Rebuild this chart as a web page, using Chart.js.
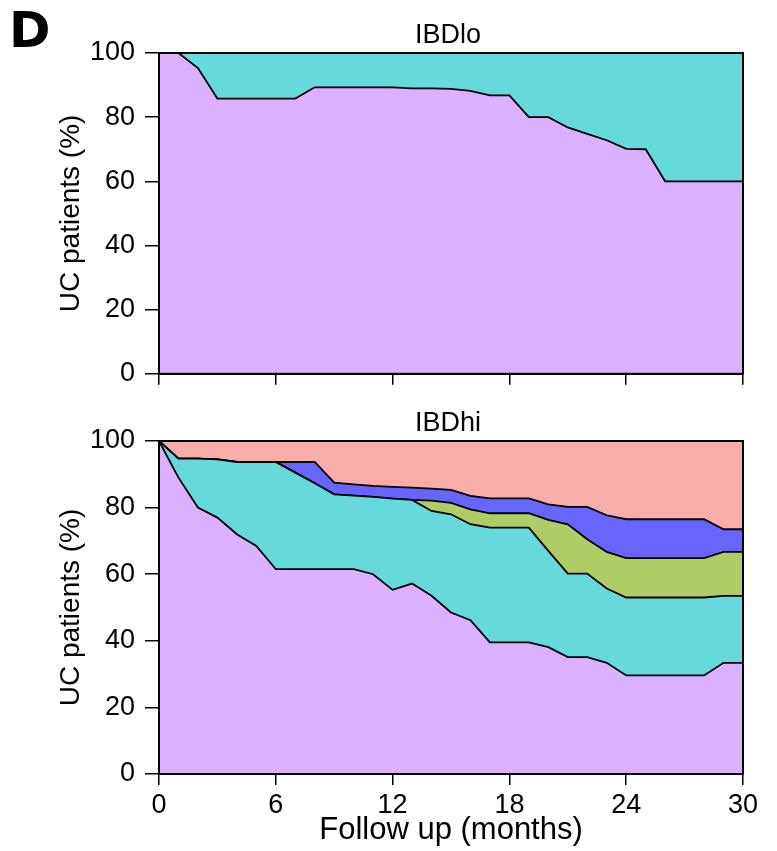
<!DOCTYPE html>
<html>
<head>
<meta charset="utf-8">
<script src="https://cdn.jsdelivr.net/npm/chart.js@4/dist/chart.umd.min.js"></script>
<style>
  body { margin: 0; background: #fff; }
  #wrap { position: relative; width: 777px; height: 851px; overflow: hidden; }
  canvas { position: absolute; left: 0; }
  #lo { top: 0; }
  #hi { top: 388px; }
  #panel { position: absolute; left: 9px; top: 0px; font: bold 50px "DejaVu Sans", sans-serif; line-height: 60px; color: #000; }
</style>
</head>
<body>
<div id="wrap">
  <canvas id="lo" width="777" height="400"></canvas>
  <canvas id="hi" width="777" height="463"></canvas>
  <div id="panel">D</div>
</div>
<script>
// follow up months
const months = [0,1,2,3,4,5,6,7,8,9,10,11,12,13,14,15,16,17,18,19,20,21,22,23,24,25,26,27,28,29,30];
const xTicks = [0, 6, 12, 18, 24, 30];
const yTicks = [0, 20, 40, 60, 80, 100];

// IBDlo: share of patients per state (%)
const loPurple = [100,100,95.3,85.8,85.8,85.8,85.8,85.8,89.3,89.3,89.3,89.3,89.3,89,89,88.8,88.2,86.8,86.8,80,80,76.8,74.8,72.8,70.1,70,60,60,60,60,60];
const loCyan = loPurple.map(v => +(100 - v).toFixed(1));

// IBDhi: share of patients per state (%)
const hiPurple = [100,89,80,77,72,68.5,61.5,61.5,61.5,61.5,61.5,60,55.3,57.2,53.5,48.5,46.2,39.5,39.5,39.5,38.1,35.1,35.1,33.4,29.6,29.6,29.6,29.6,29.6,33.4,33.4];
const hiCyan   = [0,5.7,14.7,17.5,21.7,25.2,32.2,29,25.8,22.5,22.1,23.2,27.4,25.1,25.5,29.5,28.8,34.5,34.5,34.5,28.9,25.1,25.1,22.3,23.4,23.4,23.4,23.4,23.4,20.1,20.1];
const hiGreen  = [0,0,0,0,0,0,0,0,0,0,0,0,0,0,3.1,3.4,4.5,4.3,4.3,4.3,9.3,14.8,10.3,11,11.8,11.8,11.8,11.8,11.8,13.2,13.2];
const hiBlue   = [0,0,0,0,0,0,0,3.2,6.4,3.5,3.4,3.3,3.5,3.7,3.6,3.9,4,4.5,4.5,4.5,4.7,5.2,9.7,11,11.7,11.7,11.7,11.7,11.7,6.8,6.8];
const hiSalmon = [0,5.3,5.3,5.5,6.3,6.3,6.3,6.3,6.3,12.5,13,13.5,13.8,14,14.3,14.7,16.5,17.2,17.2,17.2,19,19.8,19.8,22.3,23.5,23.5,23.5,23.5,23.5,26.5,26.5];

const COLORS = {
  purple: "#dbb0fe",
  cyan: "#66d9dc",
  green: "#b0cc66",
  blue: "#6666ff",
  salmon: "#f9ada8",
};
const FONT = "'Liberation Sans', Arial, sans-serif";

function layer(values, color, first) {
  return {
    data: months.map((m, i) => ({ x: m, y: values[i] })),
    backgroundColor: color,
    borderColor: "#000",
    borderWidth: 1.8,
    pointRadius: 0,
    tension: 0,
    fill: first ? "origin" : "-1",
  };
}

// box round the plot and panel title centred over it
const frame = {
  id: "frame",
  afterDraw(chart, args, opts) {
    const { ctx, chartArea: a } = chart;
    ctx.save();
    ctx.strokeStyle = "#000";
    ctx.lineWidth = 2;
    ctx.strokeRect(a.left, a.top, a.right - a.left, a.bottom - a.top);
    ctx.fillStyle = "#000";
    ctx.font = "27px " + FONT;
    ctx.textAlign = "center";
    ctx.textBaseline = "alphabetic";
    ctx.fillText(opts.text, (a.left + a.right) / 2 - 3, a.top - 10);
    ctx.restore();
  }
};

function makePanel(id, title, datasets, showX, xHeight) {
  return new Chart(document.getElementById(id), {
    type: "line",
    data: { datasets },
    plugins: [frame],
    options: {
      responsive: false,
      animation: false,
      layout: { padding: { left: 0, right: 34, top: 53, bottom: 0 } },
      plugins: {
        legend: { display: false },
        tooltip: { enabled: false },
        frame: { text: title },
      },
      scales: {
        x: {
          type: "linear",
          min: 0, max: 30,
          afterFit: s => { s.height = xHeight; },
          afterBuildTicks: s => { s.ticks = xTicks.map(v => ({ value: v })); },
          grid: { drawOnChartArea: false, color: "#000", lineWidth: 1.5, tickLength: 11 },
          border: { color: "#000", width: 2 },
          ticks: { display: showX, color: "#000", padding: 4, maxRotation: 0, font: { family: FONT, size: 27 } },
          title: {
            display: showX,
            text: "Follow up (months)",
            color: "#000",
            font: { family: FONT, size: 31 },
            padding: { top: 0, bottom: 2 },
          },
        },
        y: {
          stacked: true,
          min: 0, max: 100,
          afterFit: s => { s.width = 159; },
          afterBuildTicks: s => { s.ticks = yTicks.map(v => ({ value: v })); },
          grid: { drawOnChartArea: false, color: "#000", lineWidth: 1.5, tickLength: 14 },
          border: { color: "#000", width: 2 },
          ticks: { color: "#000", padding: 10, font: { family: FONT, size: 27 } },
          title: {
            display: true,
            text: "UC patients (%)",
            color: "#000",
            font: { family: FONT, size: 28 },
            padding: { top: 54, bottom: 0 },
          },
        },
      },
    },
  });
}

makePanel("lo", "IBDlo", [
  layer(loPurple, COLORS.purple, true),
  layer(loCyan, COLORS.cyan),
], false, 15);

makePanel("hi", "IBDhi", [
  layer(hiPurple, COLORS.purple, true),
  layer(hiCyan, COLORS.cyan),
  layer(hiGreen, COLORS.green),
  layer(hiBlue, COLORS.blue),
  layer(hiSalmon, COLORS.salmon),
], true, 77);
</script>
</body>
</html>
